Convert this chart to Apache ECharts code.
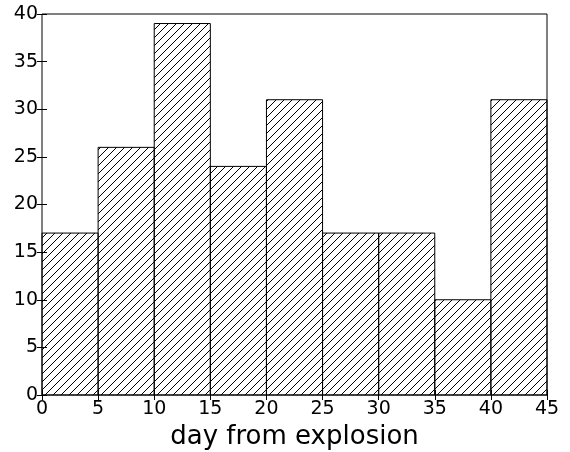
<!DOCTYPE html>
<html>
<head>
<meta charset="utf-8">
<script src="https://cdn.jsdelivr.net/npm/echarts@6/dist/echarts.min.js"></script>
<style>
html,body{margin:0;padding:0;background:#fff;}
#c{width:570px;height:452px;}
</style>
</head>
<body>
<div id="c"></div>
<script>
var binStarts = [0, 5, 10, 15, 20, 25, 30, 35, 40];
var binWidth = 5;
var counts = [17, 26, 39, 24, 31, 17, 17, 10, 31];
var xLabel = 'day from explosion';

var data = binStarts.map(function (s, i) { return [s, s + binWidth, counts[i]]; });

// hatch pattern
var pc = document.createElement('canvas');
var S = 8;
pc.width = S; pc.height = S;
var g = pc.getContext('2d');
g.strokeStyle = '#000';
g.lineWidth = 1;
g.beginPath();
g.moveTo(-1, S + 1); g.lineTo(S + 1, -1);
g.moveTo(-1, 1); g.lineTo(1, -1);
g.moveTo(S - 1, S + 1); g.lineTo(S + 1, S - 1);
g.stroke();

var chart = echarts.init(document.getElementById('c'), null, {renderer: 'canvas'});
var font = 'DejaVu Sans';
var commonX = {type: 'value', min: 0, max: 45, interval: 5, splitLine: {show: false}};
var commonY = {type: 'value', min: 0, max: 40, interval: 5, splitLine: {show: false}};
var tick = {show: true, inside: true, length: 5, lineStyle: {color: '#000', width: 1}};
chart.setOption({
  animation: false,
  grid: {left: 42, right: 23, top: 14, bottom: 57, containLabel: false, outerBoundsMode: 'none',
         show: true, borderColor: '#000', borderWidth: 1, backgroundColor: 'transparent'},
  xAxis: [
    Object.assign({}, commonX, {
      position: 'bottom',
      name: xLabel, nameLocation: 'middle', nameGap: 24,
      nameTextStyle: {fontFamily: font, fontSize: 26, color: '#000', verticalAlign: 'top'},
      axisLine: {show: false},
      axisTick: tick,
      axisLabel: {fontFamily: font, fontSize: 19, color: '#000', margin: 5}
    }),
    Object.assign({}, commonX, {
      position: 'top',
      axisLine: {show: false},
      axisTick: tick,
      axisLabel: {show: false}
    })
  ],
  yAxis: [
    Object.assign({}, commonY, {
      position: 'left',
      axisLine: {show: false},
      axisTick: tick,
      axisLabel: {fontFamily: font, fontSize: 19, color: '#000', margin: 4}
    }),
    Object.assign({}, commonY, {
      position: 'right',
      axisLine: {show: false},
      axisTick: tick,
      axisLabel: {show: false}
    })
  ],
  series: [{
    type: 'custom',
    xAxisIndex: 0, yAxisIndex: 0,
    data: data,
    renderItem: function (params, api) {
      var p0 = api.coord([api.value(0), api.value(2)]);
      var p1 = api.coord([api.value(1), 0]);
      return {
        type: 'rect',
        shape: {x: p0[0], y: p0[1], width: p1[0] - p0[0], height: p1[1] - p0[1]},
        style: {fill: {image: pc, repeat: 'repeat'}, stroke: '#000', lineWidth: 1}
      };
    }
  }]
});
</script>
</body>
</html>
